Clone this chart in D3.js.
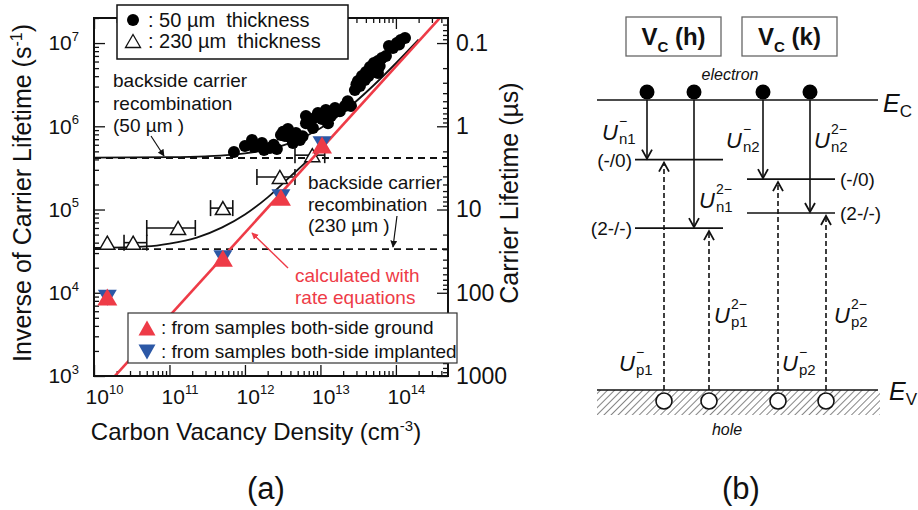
<!DOCTYPE html>
<html>
<head>
<meta charset="utf-8">
<script src="https://cdn.jsdelivr.net/npm/d3@7"></script>
<style>
  body { margin: 0; background: #fff; }
  svg { display: block; }
  text { font-family: "Liberation Sans", Arial, sans-serif; }
</style>
</head>
<body>
<div id="chart"></div>
<script>
// ---------- panel (a) data ----------
// 50 um thick samples (filled circles)
var dots_50um_density = [7.15e11, 1.0e12, 1.24e12, 1.32e12, 1.68e12, 1.79e12, 2.14e12, 2.65e12, 3.0e12, 3.39e12,
                         3.71e12, 3.94e12, 4.32e12, 4.74e12, 5.35e12, 6.43e12, 6.43e12, 7.48e12, 7.96e12, 9.27e12,
                         1.05e13, 1.18e13, 1.26e13, 1.38e13, 1.56e13, 1.81e13, 2.11e13, 2.54e13, 2.86e13, 3.14e13,
                         3.34e13, 3.55e13, 3.88e13, 4.01e13, 4.53e13, 5.11e13, 5.78e13, 5.78e13, 6.53e13, 7.38e13,
                         8.08e13, 9.13e13, 1.03e14, 1.16e14, 1.32e14, 2.4e12, 3.2e12, 5.8e12, 8.6e12, 1.5e13,
                         2.3e13, 3.0e13, 4.3e13, 6.1e13, 1.1e14];
var dots_50um_rate    = [4.91e5, 5.79e5, 6.84e5, 5.63e5, 6.29e5, 5.19e5, 5.48e5, 5.33e5, 7.85e5, 7.64e5,
                         9.27e5, 7.43e5, 6.29e5, 8.30e5, 6.84e5, 1.33e6, 1.09e6, 1.19e6, 9.53e5, 1.44e6,
                         1.22e6, 1.57e6, 1.09e6, 1.33e6, 1.66e6, 1.52e6, 1.75e6, 1.75e6, 2.72e6, 3.50e6,
                         3.04e6, 4.01e6, 3.59e6, 4.48e6, 5.15e6, 5.75e6, 6.08e6, 4.36e6, 6.61e6, 6.98e6,
                         9.2e6, 8.71e6, 1.0e7, 1.09e7, 1.15e7, 6.0e5, 8.6e5, 7.6e5, 1.28e6, 1.45e6,
                         2.0e6, 3.2e6, 4.0e6, 5.3e6, 9.6e6];

// 230 um thick samples (open triangles, horizontal error bars)
var tri_230um_density = [1.5e10, 3.3e10, 1.3e11, 5.1e11, 2.9e12, 7.8e12];
var tri_230um_rate    = [4.0e4, 4.0e4, 6.0e4, 1.04e5, 2.46e5, 4.5e5];
var tri_230um_low     = [null, 2.5e10, 5.0e10, 3.5e11, 1.44e12, 4.6e12];
var tri_230um_high    = [null, 5.0e10, 2.2e11, 6.9e11, 4.6e12, 1.14e13];

// both-side ground (red up) and both-side implanted (blue down)
var ground_density    = [1.5e10, 5.1e11, 3.0e12, 1.05e13];
var ground_rate       = [8.9e3, 2.6e4, 1.4e5, 5.96e5];
var implanted_density = [1.5e10, 5.1e11, 3.0e12, 1.05e13];
var implanted_rate    = [8.7e3, 2.6e4, 1.4e5, 6.1e5];

// fitted curves
var fit_50um_density  = [1e10, 1e11, 3e11, 1e12, 2e12, 4e12, 1e13, 2e13, 5e13, 1e14, 2e14];
var fit_50um_rate     = [4.2e5, 4.25e5, 4.36e5, 4.73e5, 5.26e5, 6.32e5, 9.5e5, 1.48e6, 3.07e6, 5.72e6, 1.1e7];
var fit_230um_density = [1e10, 5e10, 1e11, 2.3e11, 5e11, 1e12, 2e12, 4e12, 7e12, 1e13];
var fit_230um_rate    = [3.45e4, 3.6e4, 3.9e4, 4.6e4, 6.1e4, 8.7e4, 1.4e5, 2.5e5, 4.0e5, 5.6e5];

// calculated with rate equations (red straight line)
var calc_density = [1.8e10, 4.2e14];
var calc_rate    = [9.5e2, 2.2e7];

// backside carrier recombination levels
var backside_50um  = 4.16e5;
var backside_230um = 3.35e4;

var rate_ticks     = [1e3, 1e4, 1e5, 1e6, 1e7];
var density_ticks  = [1e10, 1e11, 1e12, 1e13, 1e14];
var lifetime_ticks = [0.1, 1, 10, 100, 1000];

// ---------- panel (b) data ----------
var band_gap        = 3.26;               // eV, E_C at 0, E_V at band_gap
var level_labels    = ['(-/0)', '(2-/-)'];
var level_energy_h  = [0.67, 1.44];
var level_energy_k  = [0.89, 1.27];
var charge_sup      = ['\u2212', '2\u2212'];

// ---------- drawing ----------
var red   = '#ee3b47';
var blue  = '#2c58a6';
var ink   = '#111';

var svg = d3.select('#chart')
    .append('svg')
    .attr('width', 918)
    .attr('height', 510)
    .attr('fill', ink);

var defs = svg.append('defs');

defs.append('clipPath').attr('id', 'plot-clip')
    .append('rect').attr('x', 94).attr('y', 18).attr('width', 354).attr('height', 358);

function addArrowMarker(id, color) {
    defs.append('marker')
        .attr('id', id)
        .attr('viewBox', '0 0 10 10')
        .attr('refX', 9).attr('refY', 5)
        .attr('markerWidth', 7).attr('markerHeight', 7)
        .attr('markerUnits', 'userSpaceOnUse')
        .attr('orient', 'auto')
        .append('path').attr('d', 'M0,0 L10,5 L0,10 Z').attr('fill', color);
}
addArrowMarker('arrow-black', ink);
addArrowMarker('arrow-red', red);

var hatch = defs.append('pattern')
    .attr('id', 'hatch')
    .attr('width', 5).attr('height', 5)
    .attr('patternUnits', 'userSpaceOnUse')
    .attr('patternTransform', 'rotate(45)');
hatch.append('line').attr('x1', 0).attr('y1', 0).attr('x2', 0).attr('y2', 5)
    .attr('stroke', '#333').attr('stroke-width', 1.2);

// triangle path centred on its bounding box
function triPath(w, h, up) {
    var s = up ? 1 : -1;
    return 'M0,' + (-s * h / 2) + 'L' + (w / 2) + ',' + (s * h / 2) + 'L' + (-w / 2) + ',' + (s * h / 2) + 'Z';
}

// Scales
var x_scale = d3.scaleLog().domain([1e10, 4.9e14]).range([94, 448]);
var y_scale = d3.scaleLog().domain([1e3, 2e7]).range([376, 18]);
var life_scale = d3.scaleLog().domain([1000, 0.05]).range([376, 18]);

function isMajor(d) { var l = Math.log10(d); return Math.abs(l - Math.round(l)) < 1e-6; }

var pa = svg.append('g').attr('class', 'panel-a');

// Axes (ticks inward)
function styleAxis(g) {
    g.select('.domain').remove();
    g.selectAll('line').attr('stroke', ink).attr('stroke-width', 1.3);
}

function powerLabels(g, size) {
    g.selectAll('.tick text').each(function(d) {
        var t = d3.select(this).text('10').attr('font-size', size + 'px').attr('fill', ink);
        t.append('tspan').attr('dy', -0.45 * size).attr('font-size', (size * 0.62) + 'px')
            .text(Math.round(Math.log10(d)));
    });
}

var y_minor = y_scale.ticks().filter(function(d) { return !isMajor(d); });
var x_minor = x_scale.ticks().filter(function(d) { return !isMajor(d); });
var life_minor = life_scale.ticks().filter(function(d) { return !isMajor(d); });

pa.append('g').attr('transform', 'translate(94,0)')
    .call(d3.axisLeft(y_scale).tickValues(y_minor).tickSize(-5).tickFormat(''))
    .call(styleAxis);
pa.append('g').attr('class', 'y-axis').attr('transform', 'translate(94,0)')
    .call(d3.axisLeft(y_scale).tickValues(rate_ticks).tickSize(-11).tickPadding(15))
    .call(styleAxis)
    .call(function(g) { powerLabels(g, 21); });

pa.append('g').attr('transform', 'translate(448,0)')
    .call(d3.axisRight(life_scale).tickValues(life_minor).tickSize(-5).tickFormat(''))
    .call(styleAxis);
pa.append('g').attr('transform', 'translate(448,0)')
    .call(d3.axisRight(life_scale).tickValues(lifetime_ticks).tickSize(-11).tickPadding(8)
        .tickFormat(function(d) { return String(d); }))
    .call(styleAxis)
    .call(function(g) { g.selectAll('text').attr('font-size', '23px').attr('fill', ink); });

pa.append('g').attr('transform', 'translate(0,376)')
    .call(d3.axisBottom(x_scale).tickValues(x_minor).tickSize(-5).tickFormat(''))
    .call(styleAxis);
pa.append('g').attr('class', 'x-axis').attr('transform', 'translate(0,376)')
    .call(d3.axisBottom(x_scale).tickValues(density_ticks).tickSize(-11).tickPadding(13))
    .call(styleAxis)
    .call(function(g) { powerLabels(g, 21); g.selectAll('.tick text').attr('dx', 10); });

pa.append('g').attr('transform', 'translate(0,18)')
    .call(d3.axisTop(x_scale).tickValues(x_minor).tickSize(-5).tickFormat(''))
    .call(styleAxis);
pa.append('g').attr('transform', 'translate(0,18)')
    .call(d3.axisTop(x_scale).tickValues(density_ticks).tickSize(-11).tickFormat(''))
    .call(styleAxis);

// plot contents
var plot = pa.append('g').attr('clip-path', 'url(#plot-clip)');

// backside recombination (dashed)
[backside_50um, backside_230um].forEach(function(v) {
    plot.append('line')
        .attr('x1', x_scale.range()[0]).attr('x2', x_scale.range()[1])
        .attr('y1', y_scale(v)).attr('y2', y_scale(v))
        .attr('stroke', ink).attr('stroke-width', 1.8).attr('stroke-dasharray', '7,5');
});

var line = d3.line()
    .x(function(d) { return x_scale(d[0]); })
    .y(function(d) { return y_scale(d[1]); })
    .curve(d3.curveMonotoneX);

plot.append('path').datum(d3.zip(fit_50um_density, fit_50um_rate))
    .attr('d', line).attr('fill', 'none').attr('stroke', ink).attr('stroke-width', 1.8);
plot.append('path').datum(d3.zip(fit_230um_density, fit_230um_rate))
    .attr('d', line).attr('fill', 'none').attr('stroke', ink).attr('stroke-width', 1.8);

// 50 um dots
plot.selectAll('.dot50').data(d3.zip(dots_50um_density, dots_50um_rate)).enter()
    .append('circle').attr('class', 'dot50')
    .attr('cx', function(d) { return x_scale(d[0]); })
    .attr('cy', function(d) { return y_scale(d[1]); })
    .attr('r', 6).attr('fill', '#000');

// 230 um error bars + triangles
var tri230 = tri_230um_density.map(function(d, i) {
    return { n: d, r: tri_230um_rate[i], lo: tri_230um_low[i], hi: tri_230um_high[i] };
});
var eb = plot.selectAll('.eb').data(tri230.filter(function(d) { return d.lo; })).enter()
    .append('g').attr('class', 'eb').attr('stroke', ink).attr('stroke-width', 1.6);
eb.append('line')
    .attr('x1', function(d) { return x_scale(d.lo); }).attr('x2', function(d) { return x_scale(d.hi); })
    .attr('y1', function(d) { return y_scale(d.r); }).attr('y2', function(d) { return y_scale(d.r); });
['lo', 'hi'].forEach(function(k) {
    eb.append('line')
        .attr('x1', function(d) { return x_scale(d[k]); }).attr('x2', function(d) { return x_scale(d[k]); })
        .attr('y1', function(d) { return y_scale(d.r) - 8; }).attr('y2', function(d) { return y_scale(d.r) + 8; });
});
plot.selectAll('.tri230').data(tri230).enter()
    .append('path').attr('class', 'tri230')
    .attr('transform', function(d) { return 'translate(' + x_scale(d.n) + ',' + y_scale(d.r) + ')'; })
    .attr('d', triPath(15, 13, true))
    .attr('fill', '#fff').attr('stroke', ink).attr('stroke-width', 1.5);

// calculated line
plot.append('path').datum(d3.zip(calc_density, calc_rate))
    .attr('d', d3.line().x(function(d) { return x_scale(d[0]); }).y(function(d) { return y_scale(d[1]); }))
    .attr('fill', 'none').attr('stroke', red).attr('stroke-width', 2.6);

// implanted (blue down) and ground (red up)
plot.selectAll('.impl').data(d3.zip(implanted_density, implanted_rate)).enter()
    .append('path').attr('class', 'impl')
    .attr('transform', function(d) { return 'translate(' + x_scale(d[0]) + ',' + y_scale(d[1]) + ')'; })
    .attr('d', triPath(19, 16, false)).attr('fill', blue);
plot.selectAll('.ground').data(d3.zip(ground_density, ground_rate)).enter()
    .append('path').attr('class', 'ground')
    .attr('transform', function(d) { return 'translate(' + x_scale(d[0]) + ',' + y_scale(d[1]) + ')'; })
    .attr('d', triPath(20, 17, true)).attr('fill', red);

// frame
pa.append('rect').attr('x', 94).attr('y', 18).attr('width', 354).attr('height', 358)
    .attr('fill', 'none').attr('stroke', ink).attr('stroke-width', 2);

// annotations
function multiline(g, lines, x, y, lh, size, color) {
    lines.forEach(function(s, i) {
        g.append('text').attr('x', x).attr('y', y + i * lh)
            .attr('font-size', size + 'px').attr('fill', color || ink)
            .style('white-space', 'pre').text(s);
    });
}
multiline(pa, ['backside carrier', 'recombination', '(50 \u00b5m )'], 113, 87, 22.5, 19);
multiline(pa, ['backside carrier', 'recombination', '(230 \u00b5m )'], 308, 189, 21.5, 19);
multiline(pa, ['calculated with', 'rate equations'], 295, 282, 22, 19, red);

pa.append('line').attr('x1', 151).attr('y1', 136).attr('x2', 164).attr('y2', 156)
    .attr('stroke', ink).attr('stroke-width', 1.2).attr('marker-end', 'url(#arrow-black)');
pa.append('line').attr('x1', 397).attr('y1', 216).attr('x2', 393).attr('y2', 247)
    .attr('stroke', ink).attr('stroke-width', 1.2).attr('marker-end', 'url(#arrow-black)');
pa.append('line').attr('x1', 288).attr('y1', 268).attr('x2', 252).attr('y2', 233)
    .attr('stroke', red).attr('stroke-width', 1.4).attr('marker-end', 'url(#arrow-red)');

// top legend
var lg1 = pa.append('g');
lg1.append('rect').attr('x', 117).attr('y', 5).attr('width', 231).attr('height', 54)
    .attr('fill', '#fff').attr('stroke', ink).attr('stroke-width', 1.5);
lg1.append('circle').attr('cx', 133).attr('cy', 20).attr('r', 6).attr('fill', '#000');
lg1.append('path').attr('transform', 'translate(133,41)').attr('d', triPath(15, 13, true))
    .attr('fill', '#fff').attr('stroke', ink).attr('stroke-width', 1.3);
multiline(lg1, [': 50 \u00b5m  thickness', ': 230 \u00b5m  thickness'], 148, 27, 21, 20);

// bottom legend
var lg2 = pa.append('g');
lg2.append('rect').attr('x', 128).attr('y', 313).attr('width', 329).attr('height', 50)
    .attr('fill', '#fff').attr('stroke', '#333').attr('stroke-width', 1.2);
lg2.append('path').attr('transform', 'translate(147,328)').attr('d', triPath(17, 15, true)).attr('fill', red);
lg2.append('path').attr('transform', 'translate(147,352)').attr('d', triPath(17, 15, false)).attr('fill', blue);
multiline(lg2, [': from samples both-side ground', ': from samples both-side implanted'], 161, 334, 24, 19);

// axis titles
pa.append('text').attr('transform', 'translate(31,193) rotate(-90)')
    .attr('text-anchor', 'middle').attr('font-size', '25px')
    .text('Inverse of Carrier Lifetime (s')
    .call(function(t) {
        t.append('tspan').attr('dy', -9).attr('font-size', '16px').text('-1');
        t.append('tspan').attr('dy', 9).text(')');
    });
pa.append('text').attr('transform', 'translate(518,193) rotate(-90)')
    .attr('text-anchor', 'middle').attr('font-size', '25px')
    .text('Carrier Lifetime (\u00b5s)');
pa.append('text').attr('x', 256).attr('y', 440)
    .attr('text-anchor', 'middle').attr('font-size', '24px')
    .text('Carbon Vacancy Density (cm')
    .call(function(t) {
        t.append('tspan').attr('dy', -9).attr('font-size', '15px').text('-3');
        t.append('tspan').attr('dy', 9).text(')');
    });
svg.append('text').attr('x', 266).attr('y', 499).attr('text-anchor', 'middle')
    .attr('font-size', '31px').text('(a)');

// ---------- panel (b) ----------
var pb = svg.append('g').attr('class', 'panel-b');
var e_scale = d3.scaleLinear().domain([0, band_gap]).range([100, 390]);
var serif = '"Liberation Serif", "Times New Roman", serif';

// site boxes
[['h', 626], ['k', 742]].forEach(function(s) {
    var g = pb.append('g');
    g.append('rect').attr('x', s[1]).attr('y', 17).attr('width', 95).attr('height', 39)
        .attr('fill', '#fff').attr('stroke', '#666').attr('stroke-width', 1.3);
    var t = g.append('text').attr('x', s[1] + 47.5).attr('y', 45).attr('text-anchor', 'middle')
        .attr('font-size', '24px').attr('font-weight', 'bold').text('V');
    t.append('tspan').attr('dy', 7).attr('font-size', '15px').text('C');
    t.append('tspan').attr('dy', -7).text(' (' + s[0] + ')');
});

pb.append('text').attr('x', 730).attr('y', 80).attr('text-anchor', 'middle')
    .attr('font-size', '16px').attr('font-style', 'italic').text('electron');
pb.append('text').attr('x', 727).attr('y', 435).attr('text-anchor', 'middle')
    .attr('font-size', '16px').attr('font-style', 'italic').text('hole');

// valence band hatch
pb.append('rect').attr('x', 597).attr('y', e_scale(band_gap)).attr('width', 283).attr('height', 25)
    .attr('fill', 'url(#hatch)');

// band edges
[0, band_gap].forEach(function(v) {
    pb.append('line').attr('x1', 597).attr('x2', 878).attr('y1', e_scale(v)).attr('y2', e_scale(v))
        .attr('stroke', ink).attr('stroke-width', 1.6);
});
function bandLabel(x, y, sub) {
    var t = pb.append('text').attr('x', x).attr('y', y).attr('font-family', serif)
        .attr('font-size', '25px').attr('font-style', 'italic').text('E');
    t.append('tspan').attr('dy', 5).attr('font-size', '17px').attr('font-style', 'normal').text(sub);
}
bandLabel(883, 112, 'C');
bandLabel(889, 400, 'V');

// per-site layout: level line span, electron / hole arrow x positions, label side
var sites = [
    { energy: level_energy_h, x0: 635, x1: 723, ex: [647, 694], hx: [664, 709], labelLeft: true,  idx: '1' },
    { energy: level_energy_k, x0: 747, x1: 835, ex: [763, 810], hx: [778, 826], labelLeft: false, idx: '2' }
];
// U label positions [n(-/0), n(2-/-), p(-/0), p(2-/-)] per site
var u_label_pos = [
    [[602, 140], [699, 208], [619, 371], [714, 323]],
    [[726, 148], [814, 148], [782, 371], [834, 323]]
];

function chevron(x, y, dir) {
    // dir = 1 pointing down, -1 pointing up
    pb.append('path')
        .attr('d', 'M' + (x - 5) + ',' + (y - dir * 9) + 'L' + x + ',' + y + 'L' + (x + 5) + ',' + (y - dir * 9))
        .attr('fill', 'none').attr('stroke', ink).attr('stroke-width', 1.8);
}

// U with stacked superscript / subscript, as one text element
function uLabel(x, y, sub, sup) {
    var t = pb.append('text').attr('x', x).attr('y', y).attr('font-family', serif);
    t.append('tspan').attr('font-size', '22px').attr('font-style', 'italic').text('U');
    t.append('tspan').attr('x', x + 17).attr('y', y - 14).attr('font-size', '14px').text(sup);
    t.append('tspan').attr('x', x + 17).attr('y', y + 4).attr('font-size', '15px').text(sub);
}

sites.forEach(function(s, si) {
    s.energy.forEach(function(en, li) {
        var ly = e_scale(en);
        pb.append('line').attr('x1', s.x0).attr('x2', s.x1).attr('y1', ly).attr('y2', ly)
            .attr('stroke', ink).attr('stroke-width', 1.6);
        pb.append('text')
            .attr('x', s.labelLeft ? s.x0 - 3 : s.x1 + 5).attr('y', ly + 7)
            .attr('text-anchor', s.labelLeft ? 'end' : 'start')
            .attr('font-size', '19px').text(level_labels[li]);

        // electron capture (solid, down)
        pb.append('line').attr('x1', s.ex[li]).attr('x2', s.ex[li])
            .attr('y1', e_scale(0)).attr('y2', ly - 1)
            .attr('stroke', ink).attr('stroke-width', 1.6);
        chevron(s.ex[li], ly - 1, 1);
        // hole capture (dashed, up)
        pb.append('line').attr('x1', s.hx[li]).attr('x2', s.hx[li])
            .attr('y1', e_scale(band_gap)).attr('y2', ly + 3)
            .attr('stroke', ink).attr('stroke-width', 1.6).attr('stroke-dasharray', '5,3');
        chevron(s.hx[li], ly + 3, -1);

        var pn = u_label_pos[si][li];
        uLabel(pn[0], pn[1], 'n' + s.idx, charge_sup[li]);
        var pp = u_label_pos[si][li + 2];
        uLabel(pp[0], pp[1], 'p' + s.idx, charge_sup[li]);

        // electron and hole
        pb.append('circle').attr('cx', s.ex[li]).attr('cy', e_scale(0) - 8).attr('r', 7.5).attr('fill', '#000');
        pb.append('circle').attr('cx', s.hx[li]).attr('cy', e_scale(band_gap) + 11).attr('r', 8)
            .attr('fill', '#fff').attr('stroke', ink).attr('stroke-width', 1.6);
    });
});

svg.append('text').attr('x', 741).attr('y', 499).attr('text-anchor', 'middle')
    .attr('font-size', '31px').text('(b)');
</script>
</body>
</html>
